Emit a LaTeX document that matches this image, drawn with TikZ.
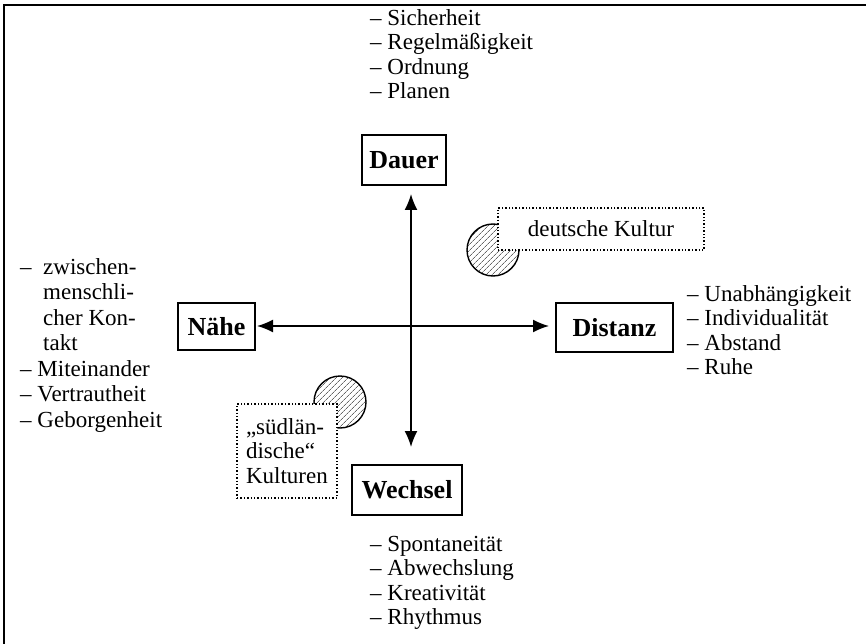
\documentclass[tikz,border=0pt]{standalone}
\usepackage{fontspec}
\setmainfont{Liberation Serif}
\usetikzlibrary{arrows.meta,patterns.meta}
\begin{document}
\begin{tikzpicture}[x=1pt,y=-1pt,
  listtext/.style={anchor=north west, inner sep=0pt, align=left, font=\fontsize{23}{24.5}\selectfont},
  axisbox/.style={draw, line width=1.8pt, font=\bfseries\fontsize{26}{30}\selectfont, inner sep=0pt},
  culturebox/.style={draw, dotted, line width=1.4pt, fill=white, inner sep=0pt, font=\fontsize{23}{24.5}\selectfont},
  hatchcircle/.style={circle, draw, line width=1.4pt, pattern={Lines[angle=45,distance=4pt,line width=0.8pt]}, pattern color=gray!80!black, minimum size=52pt, inner sep=0pt},
  axisarrow/.style={line width=1.6pt, {Latex[length=16pt,width=13pt]}-{Latex[length=16pt,width=13pt]}}]
\useasboundingbox (0,0) rectangle (866,644);
% frame
\coordinate (fbl) at (4,644);
\coordinate (ftl) at (4,5);
\coordinate (ftr) at (866,5);
\draw[line width=2pt] (fbl) -- (ftl) -- (ftr);

% lists
\node[listtext] (toplist) at (370,9) {– Sicherheit\\– Regelmäßigkeit\\– Ordnung\\– Planen};
\node[listtext, font=\fontsize{23}{25.5}\selectfont] (leftlist) at (20,258) {\makebox[23pt][l]{–}zwischen-\\\hspace*{23pt}menschli-\\\hspace*{23pt}cher Kon-\\\hspace*{23pt}takt\\– Miteinander\\– Vertrautheit\\– Geborgenheit};
\node[listtext] (rightlist) at (687,285) {– Unabhängigkeit\\– Individualität\\– Abstand\\– Ruhe};
\node[listtext] (bottomlist) at (370,536) {– Spontaneität\\– Abwechslung\\– Kreativität\\– Rhythmus};

% axis boxes
\node[axisbox, minimum width=84pt, minimum height=50pt] (dauer) at (404,160) {Dauer};
\node[axisbox, minimum width=77pt, minimum height=47pt] (naehe) at (216.5,326.5) {Nähe};
\node[axisbox, minimum width=117pt, minimum height=49pt] (distanz) at (614.5,327.5) {Distanz};
\node[axisbox, minimum width=110pt, minimum height=50pt] (wechsel) at (407,490) {Wechsel};

% arrows
\coordinate (vtop) at (411,194);
\coordinate (vbot) at (411,447);
\coordinate (hleft) at (257,326);
\coordinate (hright) at (549,326);
\draw[axisarrow] (vtop) -- (vbot);
\draw[axisarrow] (hleft) -- (hright);

% cultures
\node[hatchcircle] (c1) at (493,250) {};
\node[culturebox, minimum width=206pt, minimum height=42pt] (deutsch) at (601,229) {deutsche Kultur};
\node[hatchcircle] (c2) at (340,402) {};
\node[culturebox, minimum width=100pt, minimum height=94pt, align=left, text width=82pt] (sued) at (287,451) {„südlän-\\dische“\\Kulturen};
\end{tikzpicture}
\end{document}
